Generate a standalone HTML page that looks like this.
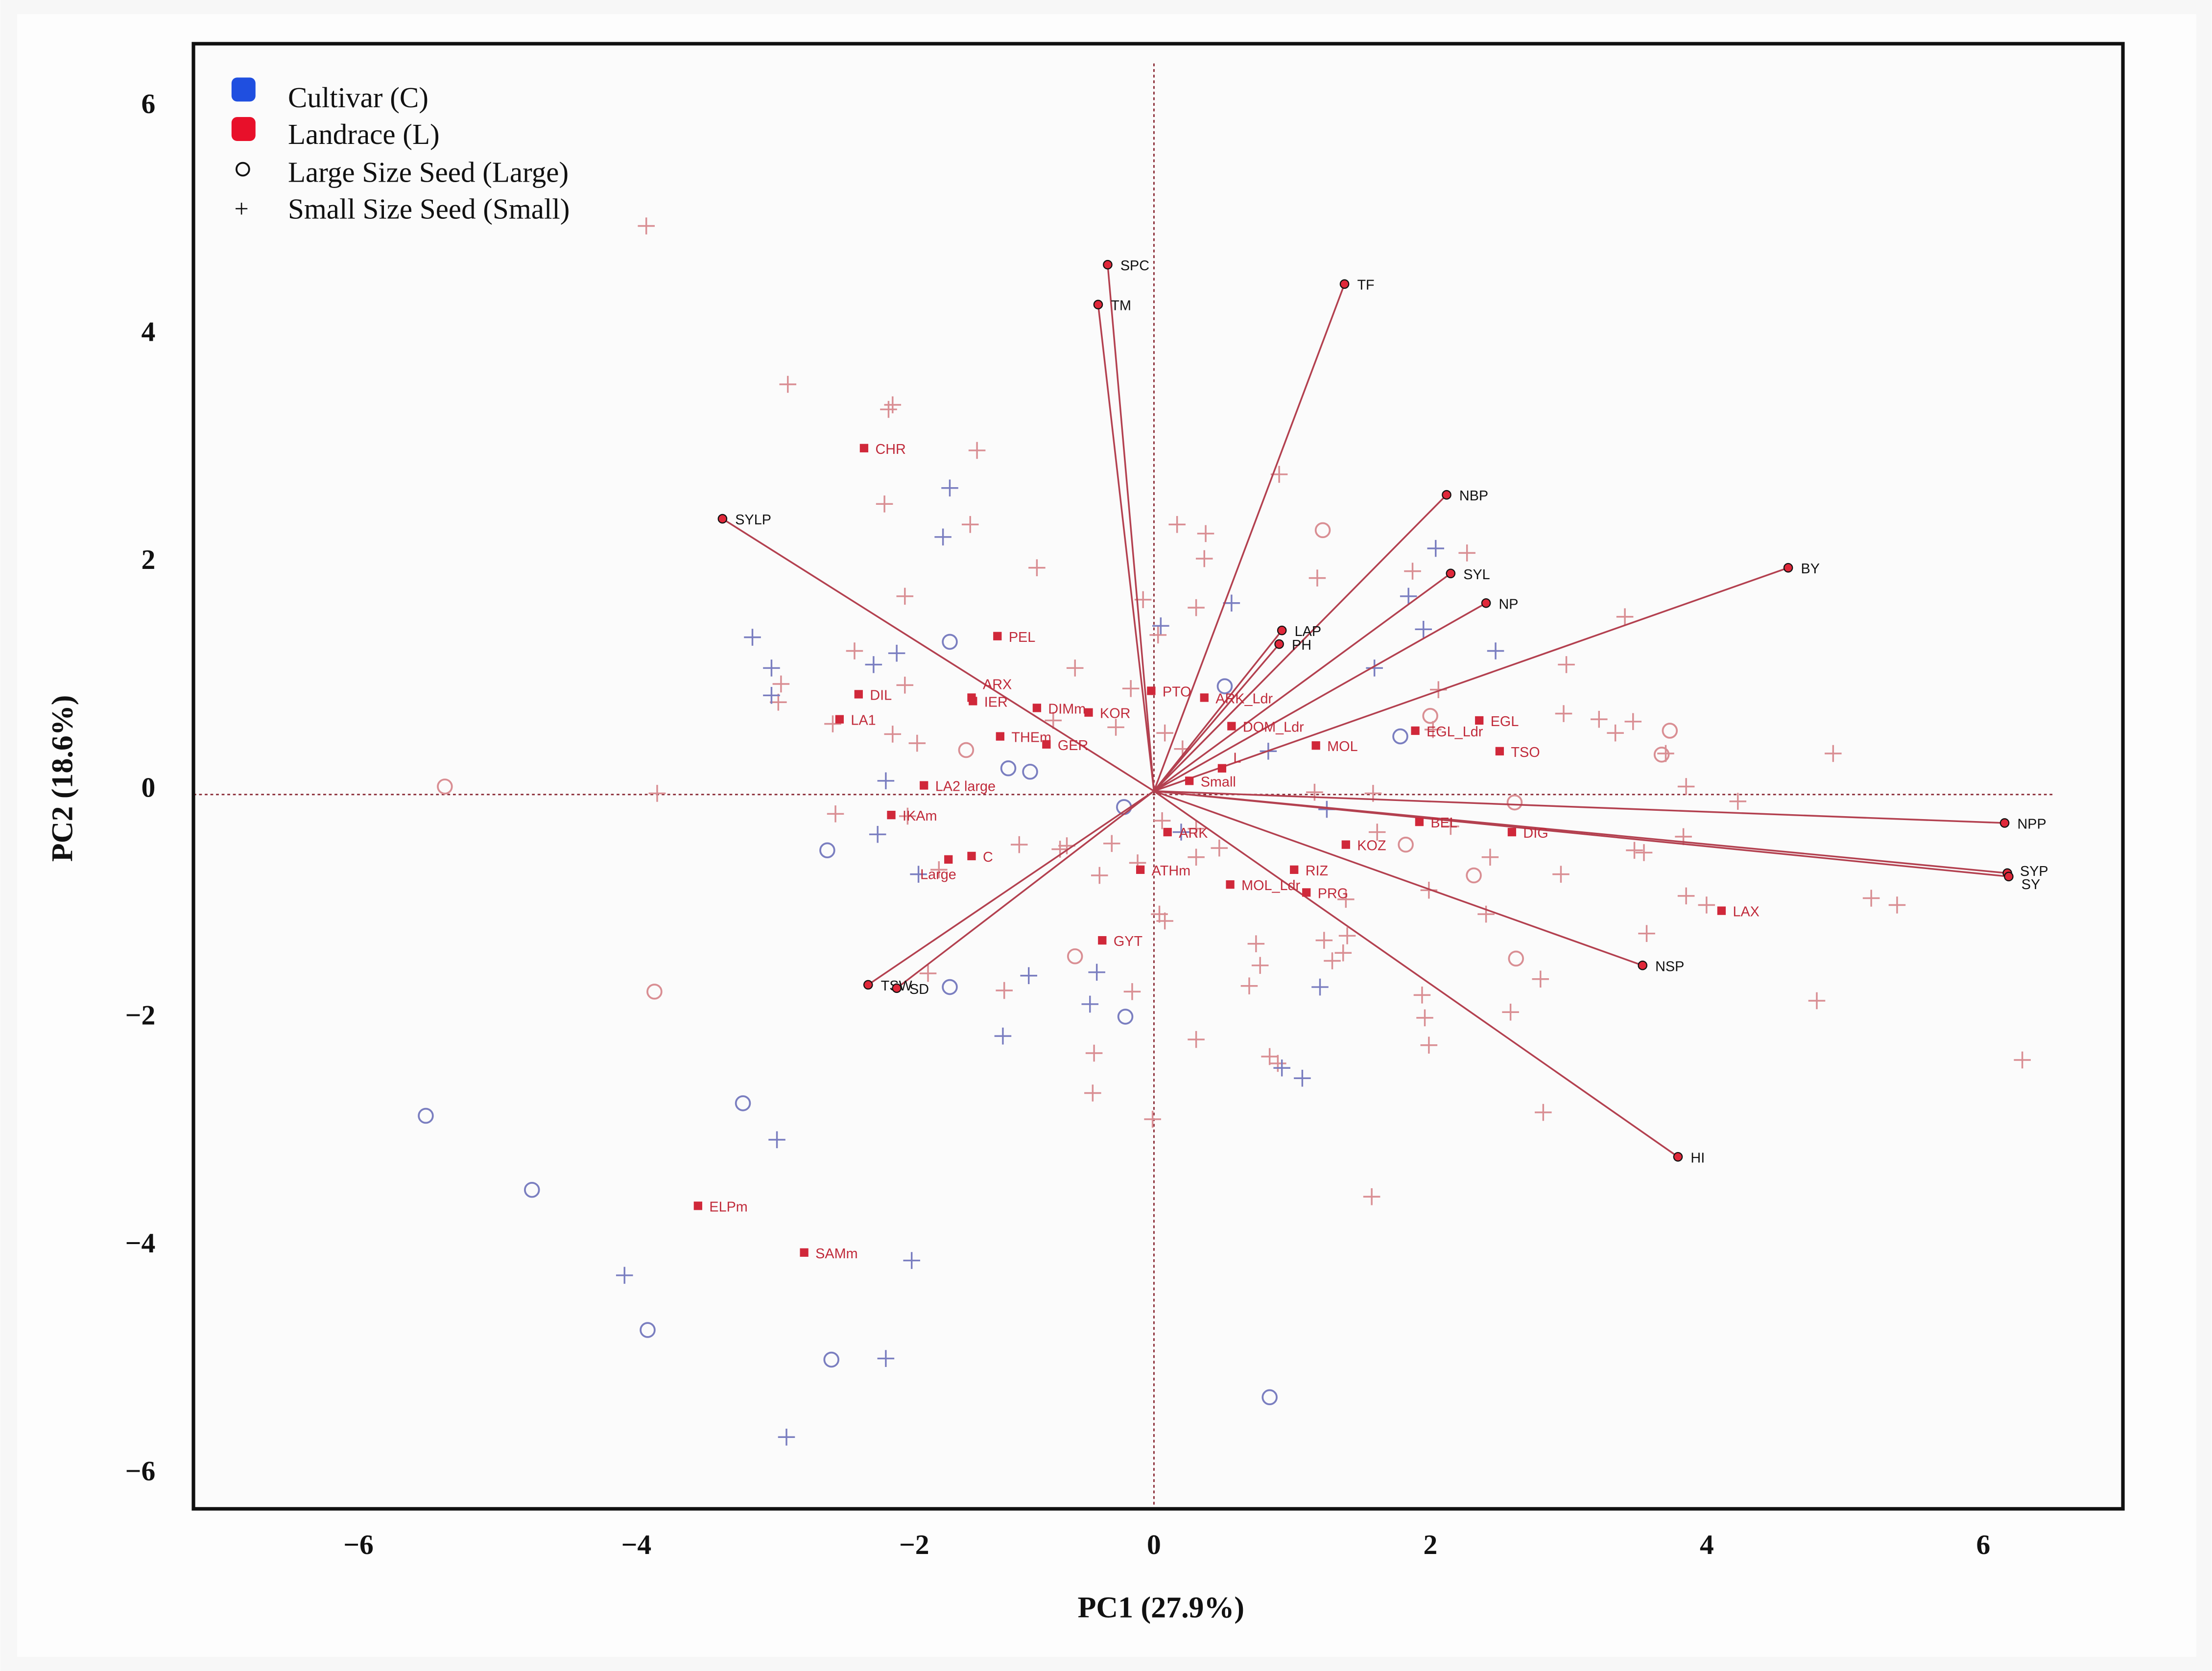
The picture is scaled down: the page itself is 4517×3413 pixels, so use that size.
<!DOCTYPE html>
<html><head><meta charset="utf-8">
<style>
html,body{margin:0;padding:0;background:#fff;}
svg{display:block;}
.tk{font-family:"Liberation Serif",serif;font-weight:bold;font-size:20px;fill:#111;}
.lg{font-family:"Liberation Serif",serif;font-size:20.5px;fill:#111;}
.vl{font-family:"Liberation Sans",sans-serif;font-size:10px;fill:#111;}
.sl{font-family:"Liberation Sans",sans-serif;font-size:10px;fill:#c02a3a;}
</style></head>
<body>
<svg id="chart" width="4517" height="3413" viewBox="0 0 1568 1185" xmlns="http://www.w3.org/2000/svg">
<rect x="0" y="0" width="1568" height="1185" fill="#f7f7f7"/>
<rect x="12" y="10" width="1545" height="1165" fill="#fdfdfd"/>
<rect x="137" y="31" width="1368" height="1039" fill="#fbfbfb"/>
<g id="layer"></g>
<rect x="137" y="31" width="1368" height="1039" fill="none" stroke="#111" stroke-width="2.5"/>
<g>
  <rect x="164" y="55" width="17" height="17" rx="4" fill="#1f4fe0"/>
  <text class="lg" x="204" y="76">Cultivar (C)</text>
  <rect x="164" y="83" width="17" height="17" rx="4" fill="#e8102a"/>
  <text class="lg" x="204" y="102">Landrace (L)</text>
  <circle cx="172" cy="120" r="4.5" fill="none" stroke="#111" stroke-width="1.3"/>
  <text class="lg" x="204" y="129">Large Size Seed (Large)</text>
  <text class="lg" x="166" y="154" style="font-size:18px">+</text>
  <text class="lg" x="204" y="155">Small Size Seed (Small)</text>
</g>
<text class="tk" x="823" y="1147" text-anchor="middle" style="font-size:21.5px">PC1 (27.9%)</text>
<text class="tk" x="0" y="0" text-anchor="middle" style="font-size:21.5px" transform="translate(51,552) rotate(-90)">PC2 (18.6%)</text>
</svg>
<script>
const xTicks=[-6,-4,-2,0,2,4,6];
const yTicks=[6,4,2,0,-2,-4,-6];
const vecNames=["SPC","TM","TF","SYLP","NBP","SYL","BY","NP","LAP","PH","NPP","SYP","SY","NSP","HI","TSW","SD"];
const vecX=[-0.34,-0.41,1.40,-3.17,2.15,2.18,4.66,2.44,0.94,0.92,6.25,6.27,6.28,3.59,3.85,-2.10,-1.89];
const vecY=[4.62,4.27,4.45,2.39,2.60,1.91,1.96,1.65,1.41,1.29,-0.28,-0.72,-0.75,-1.53,-3.21,-1.70,-1.73];
const supNames=["CHR","PEL","IER","ARX","DIL","LA1","DIMm","KOR","THEm","GER","PTO","ARK_Ldr","DOM_Ldr","MOL","L","Small","LA2 large","IKAm","EGL","EGL_Ldr","TSO","BEL","DIG","ARK","KOZ","C","Large","RIZ","ATHm","MOL_Ldr","PRG","GYT","LAX","ELPm","SAMm"];
const supX=[-2.13,-1.15,-1.33,-1.34,-2.17,-2.31,-0.86,-0.48,-1.13,-0.79,-0.02,0.37,0.57,1.19,0.50,0.26,-1.69,-1.93,2.39,1.92,2.54,1.95,2.63,0.10,1.41,-1.34,-1.51,1.03,-0.10,0.56,1.12,-0.38,4.17,-3.35,-2.57];
const supY=[3.01,1.36,0.79,0.82,0.85,0.63,0.73,0.69,0.48,0.41,0.88,0.82,0.57,0.40,0.20,0.09,0.05,-0.21,0.62,0.53,0.35,-0.27,-0.36,-0.36,-0.47,-0.57,-0.60,-0.69,-0.69,-0.82,-0.89,-1.31,-1.05,-3.64,-4.05];
const cLargeX=[-1.50,-1.07,-0.91,-2.40,-0.22,0.52,-1.50,-0.21,-3.02,-5.35,-4.57,-3.72,-2.37,0.85,1.81];
const cLargeY=[1.31,0.20,0.17,-0.52,-0.14,0.92,-1.72,-1.98,-2.74,-2.85,-3.50,-4.73,-4.99,-5.32,0.48];
const lLargeX=[-5.21,-3.67,-1.38,1.24,2.03,3.79,3.73,2.65,1.85,2.35,2.66,-0.58];
const lLargeY=[0.04,-1.76,0.36,2.29,0.66,0.53,0.32,-0.10,-0.47,-0.74,-1.47,-1.45];
const cSmallX=[-1.50,-1.55,-2.95,-2.81,-2.81,-2.06,-1.89,-1.97,-2.03,-1.73,0.05,0.57,0.84,1.27,1.62,1.87,1.98,2.07,2.51,-0.92,-0.42,-0.47,-1.11,-2.77,-1.78,-3.89,-1.97,-2.70,0.94,1.09,1.22,0.20];
const cSmallY=[2.66,2.23,1.35,1.08,0.84,1.11,1.21,0.09,-0.38,-0.73,1.45,1.65,0.35,-0.16,1.08,1.71,1.42,2.13,1.23,-1.62,-1.59,-1.87,-2.15,-3.06,-4.12,-4.25,-4.98,-5.67,-2.43,-2.52,-1.72,-0.36];
const lSmallX=[-3.73,-2.69,-1.92,-1.95,-1.30,-1.98,-1.35,-0.86,-1.83,-2.20,-1.83,-2.74,-2.76,-2.36,-1.92,-1.74,-0.58,-0.74,-0.28,0.03,0.17,0.38,0.37,0.31,0.92,1.20,1.90,2.30,2.09,2.05,3.46,3.03,3.01,3.27,3.39,3.52,3.76,4.99,3.91,4.29,3.60,3.53,3.89,3.91,4.06,5.27,5.46,3.62,2.99,2.47,2.44,2.62,2.84,2.02,1.97,1.99,2.02,2.86,4.87,6.38,1.60,0.75,0.78,0.70,1.25,1.31,1.39,1.42,1.41,1.18,1.61,2.18,1.64,-3.65,-2.34,-1.81,-1.58,-1.66,-1.10,-0.69,-0.64,-0.31,-0.40,-0.12,0.06,0.31,0.48,0.31,0.04,0.08,-0.16,-0.44,-0.45,-0.01,0.31,0.91,0.85,-0.17,0.08,0.21,-0.08,-0.99];
const lSmallY=[4.96,3.57,3.39,3.35,2.99,2.52,2.34,1.96,1.71,1.23,0.93,0.94,0.78,0.59,0.50,0.42,1.08,0.62,0.56,1.37,2.34,2.26,2.04,1.61,2.78,1.87,1.93,2.09,0.89,0.54,1.53,1.11,0.68,0.63,0.51,0.61,0.33,0.33,0.04,-0.09,-0.54,-0.52,-0.40,-0.92,-1.00,-0.94,-1.00,-1.25,-0.73,-0.58,-1.08,-1.94,-1.65,-0.87,-1.79,-1.99,-2.23,-2.82,-1.84,-2.36,-3.56,-1.34,-1.53,-1.71,-1.31,-1.49,-1.42,-1.27,-0.95,-0.01,-0.02,-0.31,-0.36,-0.02,-0.20,-0.22,-0.69,-1.60,-1.75,-0.51,-0.48,-0.46,-0.74,-0.63,-0.26,-0.33,-0.50,-0.58,-1.08,-1.14,-1.76,-2.30,-2.65,-2.88,-2.18,-2.39,-2.33,0.90,0.51,0.37,1.68,-0.47];

const X0=818,SX=96.5,Y0=561,SY=80.8;
function sx(v){return X0+v*SX;}
function sy(v){return Y0-v*SY;}
// tick label axis (labels sit on slightly different spacing than data in the reference)
function tx(v){return v<0 ? 648+(v+2)*98.5 : X0+v*98;}
const NS="http://www.w3.org/2000/svg";
const svg=document.getElementById('chart');
const layer=document.getElementById('layer');
function mk(tag,attrs,parent){const e=document.createElementNS(NS,tag);for(const k in attrs)e.setAttribute(k,attrs[k]);(parent||layer).appendChild(e);return e;}

let e=mk('line',{x1:sx(0),y1:45,x2:sx(0),y2:1070,stroke:'#8a2a35','stroke-width':1,'stroke-dasharray':'2,2'});


e=mk('line',{x1:137,y1:sy(-0.03),x2:1455,y2:sy(-0.03),stroke:'#8a2a35','stroke-width':1,'stroke-dasharray':'2,2'});



xTicks.forEach(t=>{
  const el=mk('text',{x:tx(t),y:1102,'text-anchor':'middle',class:'tk'},svg);
  el.textContent=t<0?'\u2212'+Math.abs(t):String(t);
  
  
});
yTicks.forEach(t=>{
  const el=mk('text',{x:110,y:sy(t)+4,'text-anchor':'end',class:'tk'},svg);
  el.textContent=t<0?'\u2212'+Math.abs(t):String(t);
  
  
});

function plus(x,y,col,name){
  const g=mk('g',{stroke:col,'stroke-width':1.2});
  mk('line',{x1:x-6,y1:y,x2:x+6,y2:y},g);
  mk('line',{x1:x,y1:y-6,x2:x,y2:y+6},g);
  
  
}
lSmallX.forEach((v,i)=>plus(sx(v),sy(lSmallY[i]),'#d98e93','landrace-small-point'));
cSmallX.forEach((v,i)=>plus(sx(v),sy(cSmallY[i]),'#7a7ec0','cultivar-small-point'));
lLargeX.forEach((v,i)=>{
  const c=mk('circle',{cx:sx(v),cy:sy(lLargeY[i]),r:5,fill:'none',stroke:'#d98e93','stroke-width':1.3});
  
  
});
cLargeX.forEach((v,i)=>{
  const c=mk('circle',{cx:sx(v),cy:sy(cLargeY[i]),r:5,fill:'none',stroke:'#7a7ec0','stroke-width':1.3});
  
  
});

vecNames.forEach((n,i)=>{
  const l=mk('line',{x1:sx(0),y1:sy(0),x2:sx(vecX[i]),y2:sy(vecY[i]),stroke:'#b3404f','stroke-width':1.2});
  
  
});
vecNames.forEach((n,i)=>{
  const d=mk('circle',{cx:sx(vecX[i]),cy:sy(vecY[i]),r:3,fill:'#e0283a',stroke:'#111','stroke-width':0.8});
  
  
  let dy=4;
  if(n==='SY')dy=9;
  if(n==='SYP')dy=2;
  const t=mk('text',{x:sx(vecX[i])+9,y:sy(vecY[i])+dy,class:'vl'});
  t.textContent=n;
  
  
});

supNames.forEach((n,i)=>{
  const x=sx(supX[i]),y=sy(supY[i]);
  const r=mk('rect',{x:x-3,y:y-3,width:6,height:6,fill:'#d0283a'});
  
  
  let dy=4;
  if(n==='ARX')dy=-6;
  if(n==='L')dy=-4;
  let dx=8;
  if(n==='Large'){dx=-20;dy=14;}
  const t=mk('text',{x:x+dx,y:y+dy,class:'sl'});
  t.textContent=n;
  
  
});
</script>
</body></html>
